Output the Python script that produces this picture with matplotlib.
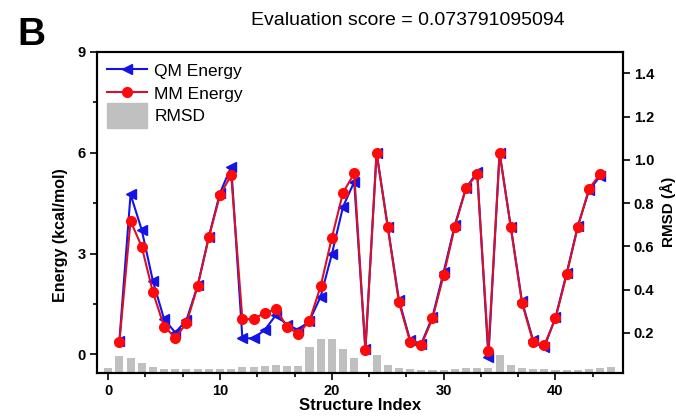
import numpy as np
import matplotlib
matplotlib.use("Agg")
import matplotlib.pyplot as plt
from matplotlib.ticker import MultipleLocator
from matplotlib.patches import Patch, Rectangle
from matplotlib.lines import Line2D
from matplotlib.legend_handler import HandlerPatch

plt.rcParams['font.family'] = ['Liberation Sans', 'DejaVu Sans']

# data
idx = list(range(1, 45))
qm_energy = [0.40, 4.76, 3.70, 2.18, 1.05, 0.65, 1.02, 2.05, 3.50, 4.80, 5.58,
             0.48, 0.48, 0.73, 1.17, 0.88, 0.73, 1.00, 1.72, 2.98, 4.39, 5.13,
             0.15, 6.00, 3.80, 1.62, 0.42, 0.32, 1.12, 2.45, 3.85, 4.95, 5.42,
             -0.08, 6.00, 3.80, 1.58, 0.42, 0.22, 1.10, 2.42, 3.82, 4.88, 5.30]
mm_energy = [0.36, 3.97, 3.20, 1.85, 0.83, 0.50, 0.93, 2.03, 3.48, 4.74, 5.33,
             1.05, 1.05, 1.24, 1.34, 0.83, 0.61, 1.00, 2.03, 3.47, 4.81, 5.38,
             0.13, 5.99, 3.78, 1.55, 0.38, 0.28, 1.07, 2.36, 3.80, 4.95, 5.36,
             0.11, 5.99, 3.78, 1.54, 0.37, 0.28, 1.07, 2.38, 3.80, 4.93, 5.36]
rmsd_idx = list(range(0, 46))
rmsd = [0.037, 0.094, 0.084, 0.061, 0.042, 0.035, 0.032, 0.032, 0.032, 0.032,
        0.032, 0.032, 0.042, 0.042, 0.045, 0.051, 0.048, 0.045, 0.135, 0.173,
        0.174, 0.124, 0.084, 0.020, 0.099, 0.050, 0.037, 0.032, 0.028, 0.028,
        0.028, 0.032, 0.040, 0.037, 0.040, 0.100, 0.053, 0.040, 0.033, 0.032,
        0.028, 0.028, 0.028, 0.035, 0.040, 0.042]

blue = '#1414e6'
red = '#ff0a0a'
red_line = '#d8102a'

fig = plt.figure(figsize=(6.76, 4.2), dpi=100)
ax = fig.add_axes([0.1435, 0.112, 0.7775, 0.765])
ax2 = ax.twinx()

# RMSD bars behind the lines
ax2.bar(rmsd_idx, rmsd, width=0.72, color='#c0c0c0', zorder=1)
ax2.set_ylim(0.015, 1.5)
ax2.set_yticks([0.2, 0.4, 0.6, 0.8, 1.0, 1.2, 1.4])
ax2.set_ylabel('RMSD (Å)', fontsize=11, fontweight='bold')

ax.set_zorder(ax2.get_zorder() + 1)
ax.patch.set_visible(False)

ax.plot(idx, qm_energy, color=blue, marker='<', markersize=7.5, lw=1.5, zorder=3)
ax.plot(idx, mm_energy, color=red_line, marker='o', markersize=7, lw=1.5,
        markerfacecolor=red, markeredgecolor=red, zorder=4)

ax.set_xlim(-1, 46)
ax.set_ylim(-0.55, 9)
ax.xaxis.set_major_locator(MultipleLocator(10))
ax.xaxis.set_minor_locator(MultipleLocator(10 / 3))
ax.yaxis.set_major_locator(MultipleLocator(3))
ax.yaxis.set_minor_locator(MultipleLocator(1.5))

ax.set_xlabel('Structure Index', fontsize=12, fontweight='bold', labelpad=0)
ax.set_ylabel('Energy (kcal/mol)', fontsize=11.5, fontweight='bold')
ax.yaxis.set_label_coords(-0.055, 0.43)
fig.text(0.604, 0.952, 'Evaluation score = 0.073791095094', fontsize=14,
         ha='center', va='center')
fig.text(0.025, 0.893, 'B', fontsize=28, fontweight='bold')

for a in (ax, ax2):
    for s in a.spines.values():
        s.set_linewidth(1.5)
    a.tick_params(which='both', width=1.2, labelsize=10.5, pad=3)
    a.tick_params(which='major', length=5)
    a.tick_params(which='minor', length=3)
    for lab in a.get_xticklabels() + a.get_yticklabels():
        lab.set_fontweight('bold')


# taller grey box for the RMSD legend entry
def big_box(legend, orig_handle, xdescent, ydescent, width, height, fontsize):
    return Rectangle((-xdescent, -ydescent - 3), width, height + 6)


handles = [Line2D([], [], color=blue, marker='<', markersize=7.5, lw=1.5),
           Line2D([], [], color=red_line, marker='o', markersize=7, lw=1.5,
                  markerfacecolor=red, markeredgecolor=red),
           Patch(color='#c0c0c0')]
ax.legend(handles, ['QM Energy', 'MM Energy', 'RMSD'], loc='upper left',
          frameon=False, fontsize=12.5, handlelength=2.3, handleheight=1.1,
          borderaxespad=0.2, labelspacing=0.3, handletextpad=0.4,
          borderpad=0.4, handler_map={Patch: HandlerPatch(patch_func=big_box)})

plt.savefig('out.png', dpi=100)
